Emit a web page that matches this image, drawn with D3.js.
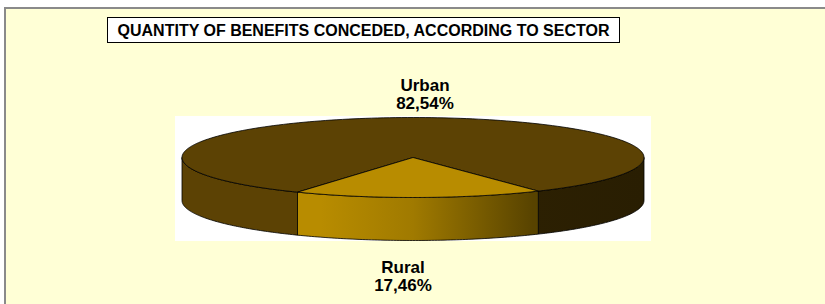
<!DOCTYPE html>
<html>
<head>
    <meta charset="utf-8">
    <title>Quantity of benefits conceded, according to sector</title>
    <script src="https://cdn.jsdelivr.net/npm/d3@7"></script>
    <style>
        body { margin: 0; background: #fff; }
        text { font-family: "Liberation Sans", Arial, sans-serif; font-weight: bold; fill: #000; }
    </style>
</head>
<body>
<div id="chart"></div>
<script>
    // chart data
    const sectors = ["Urban", "Rural"];
    const shares = [82.54, 17.46];
    const shareLabels = ["82,54%", "17,46%"];
    const sliceColors = ["#5C4204", "#B88C00"];
    const chartTitle = "QUANTITY OF BENEFITS CONCEDED, ACCORDING TO SECTOR";

    // dimensions
    const width = 825, height = 304;
    const cx = 413, cy = 157.5, rx = 231, ry = 40, depth = 43;

    const svg = d3.select("#chart").append("svg")
        .attr("width", width)
        .attr("height", height);

    // outer frame
    svg.append("rect")
        .attr("x", 5).attr("y", 8)
        .attr("width", width + 10).attr("height", height + 10)
        .style("fill", "#FFFFD6")
        .style("stroke", "#8a8a8a")
        .style("stroke-width", 2);

    // title box
    const titleG = svg.append("g");
    titleG.append("rect")
        .attr("x", 107.5).attr("y", 17.5)
        .attr("width", 512).attr("height", 25)
        .style("fill", "#fff")
        .style("stroke", "#000")
        .style("stroke-width", 1);
    titleG.append("text")
        .attr("x", 363.5).attr("y", 36)
        .attr("text-anchor", "middle")
        .style("font-size", "16px")
        .text(chartTitle);

    // white plot area behind the pie
    svg.append("rect")
        .attr("x", 175).attr("y", 116)
        .attr("width", 476).attr("height", 125)
        .style("fill", "#fff");

    // gradients for the side walls (lighter on the left, darker on the right)
    const defs = svg.append("defs");
    const shade = [[0, 1], [0.3, 1], [0.5, 0.87], [0.68, 0.6], [0.76, 0.48], [1, 0.45]];
    sliceColors.forEach((c, i) => {
        const g = defs.append("linearGradient")
            .attr("id", "side" + i)
            .attr("gradientUnits", "userSpaceOnUse")
            .attr("x1", cx - rx).attr("x2", cx + rx)
            .attr("y1", 0).attr("y2", 0);
        shade.forEach(s => {
            const base = d3.rgb(c);
            g.append("stop")
                .attr("offset", s[0])
                .attr("stop-color", d3.rgb(base.r * s[1], base.g * s[1], base.b * s[1]).formatHex());
        });
    });

    const pie = d3.pie().sort(null)
        .startAngle(-150 * Math.PI / 180)
        .endAngle(210 * Math.PI / 180);
    const arcs = pie(shares);

    // position on the ellipse for a d3 angle (0 = 12 o'clock, clockwise)
    const px = a => cx + rx * Math.sin(a);
    const py = (a, dy = 0) => cy - ry * Math.cos(a) + dy;

    function ellipseArc(a0, a1, dy, steps) {
        const pts = [];
        for (let k = 0; k <= steps; k++) {
            const a = a0 + (a1 - a0) * k / steps;
            pts.push([px(a), py(a, dy)]);
        }
        return pts;
    }

    const line = d3.line();

    // side walls: only the front half of the rim is visible
    const half = Math.PI / 2;
    const frontRanges = [[-3 * half, -half], [half, 3 * half], [5 * half, 7 * half]];
    const sideG = svg.append("g");
    arcs.forEach((d, i) => {
        frontRanges.forEach(r => {
            const a0 = Math.max(d.startAngle, r[0]);
            const a1 = Math.min(d.endAngle, r[1]);
            if (a1 <= a0) return;
            const top = ellipseArc(a0, a1, 0, 80);
            const bottom = ellipseArc(a1, a0, depth, 80);
            sideG.append("path")
                .attr("d", line(top.concat(bottom)) + "Z")
                .style("fill", `url(#side${i})`)
                .style("stroke", "#000")
                .style("stroke-width", 0.8)
                .style("stroke-linejoin", "round");
        });
    });

    // top faces
    const topG = svg.append("g");
    arcs.forEach((d, i) => {
        const pts = [[cx, cy]].concat(ellipseArc(d.startAngle, d.endAngle, 0, 200));
        topG.append("path")
            .attr("d", line(pts) + "Z")
            .style("fill", sliceColors[i])
            .style("stroke", "#000")
            .style("stroke-width", 0.8)
            .style("stroke-linejoin", "round");
    });

    // data labels
    const labelPos = [
        {x: cx + 12, y: cy - ry - 27},
        {x: cx - 10, y: cy + ry + depth + 32}
    ];
    sectors.forEach((s, i) => {
        const t = svg.append("text")
            .attr("x", labelPos[i].x)
            .attr("y", labelPos[i].y)
            .attr("text-anchor", "middle")
            .style("font-size", "17px");
        t.append("tspan").attr("x", labelPos[i].x).text(s);
        t.append("tspan").attr("x", labelPos[i].x).attr("dy", 18.5).text(shareLabels[i]);
    });
</script>
</body>
</html>
